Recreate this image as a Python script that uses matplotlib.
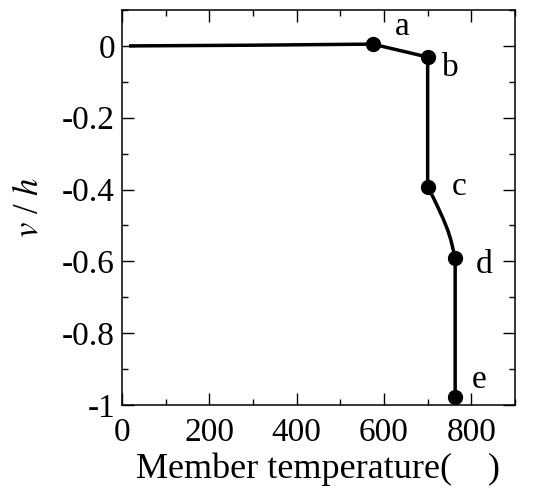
import numpy as np
import matplotlib
matplotlib.use("Agg")
import matplotlib.pyplot as plt
from matplotlib.ticker import MultipleLocator

plt.rcParams['font.family'] = ['Liberation Serif', 'DejaVu Serif']
plt.rcParams['mathtext.fontset'] = 'stix'

# curve
temp = [20, 300, 574, 700, 700, 700, 712, 723, 735, 746, 753, 758, 761, 763, 763]
vh = [0.0, 0.002, 0.005, -0.031, -0.2, -0.394, -0.42, -0.448, -0.48, -0.513, -0.54,
      -0.565, -0.58, -0.591, -0.977]

# marked states a-e
pt_names = ['a', 'b', 'c', 'd', 'e']
pt_temp = [574, 700, 700, 763, 763]
pt_vh = [0.005, -0.031, -0.394, -0.591, -0.977]
lab_temp = [642, 753, 773, 830, 818]
lab_vh = [0.053, -0.061, -0.393, -0.61, -0.93]

yticks = [0, -0.2, -0.4, -0.6, -0.8, -1]
yticklabels = ['0', '-0.2', '-0.4', '-0.6', '-0.8', '-1']

fig = plt.figure(figsize=(5.36, 5.0), dpi=100)
ax = fig.add_axes([0.2276, 0.19, 0.7332, 0.79])

ax.plot(temp, vh, color='black', lw=2.5, solid_joinstyle='round')
ax.plot(pt_temp, pt_vh, 'o', color='black', ms=10)
for n, x, y in zip(pt_names, lab_temp, lab_vh):
    ax.text(x, y, n, fontsize=24, ha='center', va='center')

ax.set_xlim(0, 900)
ax.set_ylim(-1, 0.1)
ax.xaxis.set_major_locator(MultipleLocator(200))
ax.xaxis.set_minor_locator(MultipleLocator(100))
ax.set_yticks(yticks)
ax.set_yticklabels(yticklabels)
ax.yaxis.set_minor_locator(MultipleLocator(0.1))
ax.tick_params(which='both', direction='in', top=True, right=True, labelsize=24, width=1)
ax.tick_params(which='major', length=8.5)
ax.tick_params(axis='x', which='major', pad=9)
ax.tick_params(axis='y', which='major', pad=5)
ax.tick_params(which='minor', length=4.5)
for s in ax.spines.values():
    s.set_linewidth(1.1)

ax.set_xlabel('Member temperature(    )', fontsize=26, labelpad=3)
ax.set_ylabel('$v$ / $h$', fontsize=25, labelpad=12)

fig.savefig('out.png', dpi=100)
